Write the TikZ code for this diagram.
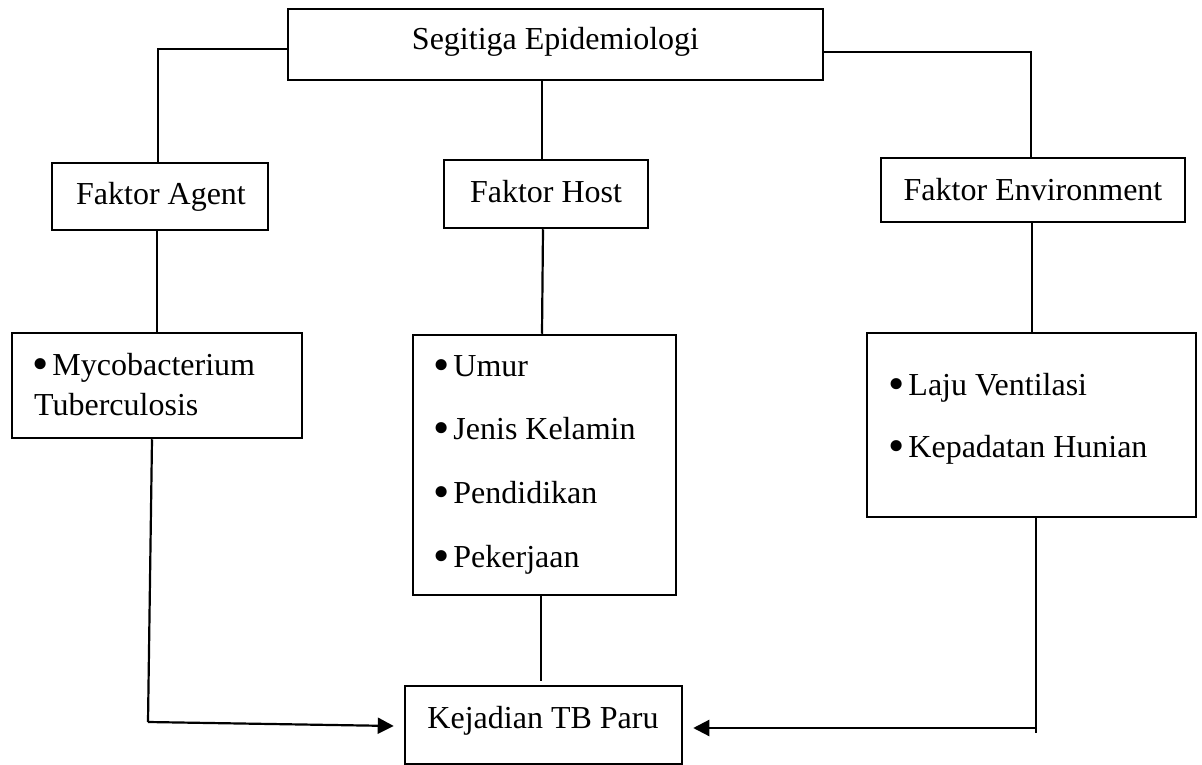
\documentclass[tikz,border=0pt]{standalone}
\usepackage{fontspec}
\setmainfont{Liberation Serif}
\usetikzlibrary{arrows.meta}
\newcommand{\bulitem}{\raisebox{-4.5pt}{\scalebox{1.45}{•}}\hspace{4pt}}
\begin{document}
\begin{tikzpicture}[x=1pt,y=-1pt,
  box/.style={draw=black, line width=2.5pt, inner sep=0pt, fill=none},
  conn/.style={draw=black, line width=2.2pt},
  arr/.style={conn, -{Triangle[length=16pt,width=16pt]}},
  lbl/.style={inner sep=0pt, anchor=base, font=\fontsize{32}{38}\selectfont},
  item/.style={inner sep=0pt, anchor=base west, font=\fontsize{32}{38}\selectfont}]
\useasboundingbox[fill=white] (0,0) rectangle (1202,765);

% boxes
\node[box, minimum width=535pt, minimum height=71pt] (top) at (555.5,44.5) {};
\node[box, minimum width=216pt, minimum height=67pt] (agent) at (160,196.5) {};
\node[box, minimum width=204pt, minimum height=68pt] (host) at (546,194) {};
\node[box, minimum width=304pt, minimum height=64pt] (env) at (1033,190) {};
\node[box, minimum width=290pt, minimum height=105pt] (myco) at (157,385.5) {};
\node[box, minimum width=263pt, minimum height=260pt] (umur) at (544.5,465) {};
\node[box, minimum width=329pt, minimum height=184pt] (laju) at (1031.5,425) {};
\node[box, minimum width=277pt, minimum height=78pt] (kej) at (543.5,725) {};

% texts
\node[lbl] (tTop) at (555.5,50) {Segitiga Epidemiologi};
\node[lbl] (tAgent) at (161,204) {Faktor Agent};
\node[lbl] (tHost) at (546,202) {Faktor Host};
\node[lbl] (tEnv) at (1033,200) {Faktor Environment};
\node[lbl] (tKej) at (543,728) {Kejadian TB Paru};

\node[item] (i1) at (32,375) {\bulitem Mycobacterium};
\node[item] (i2) at (34,415) {Tuberculosis};
\node[item] (i3) at (433,376) {\bulitem Umur};
\node[item] (i4) at (433,439) {\bulitem Jenis Kelamin};
\node[item] (i5) at (433,503) {\bulitem Pendidikan};
\node[item] (i6) at (433,567) {\bulitem Pekerjaan};
\node[item] (i7) at (888,395) {\bulitem Laju Ventilasi};
\node[item] (i8) at (888,457) {\bulitem Kepadatan Hunian};

% connectors
\draw[conn] ([yshift=-4.5pt]top.west) -| ([xshift=-2pt]agent.north);
\draw[conn] ([yshift=-7.5pt]top.east) -| ([xshift=-2pt]env.north);
\draw[conn] ([xshift=-13.5pt]top.south) -- ([xshift=-4pt]host.north);
\draw[conn] ([xshift=-3pt]agent.south) -- (myco.north);
\draw[conn] ([xshift=-3pt]host.south) -- ([xshift=-2.5pt]umur.north);
\draw[conn] ([xshift=-1pt]env.south) -- ([xshift=0.5pt]laju.north);
\draw[conn] ([xshift=-3.5pt]umur.south) -- ([xshift=-2.5pt,yshift=4pt]kej.north);

\coordinate (cA) at (148,722);
\draw[conn] ([xshift=-5pt]myco.south) -- (cA);
\draw[arr] (cA) -- ([xshift=-10pt,yshift=-1pt]kej.west);

\coordinate (cB) at (1036,728);
\coordinate (cBend) at (1036,733);
\draw[conn] ([xshift=4.5pt]laju.south) -- (cBend);
\draw[arr] (cB) -- ([xshift=10pt,yshift=-3pt]kej.east);
\end{tikzpicture}
\end{document}
